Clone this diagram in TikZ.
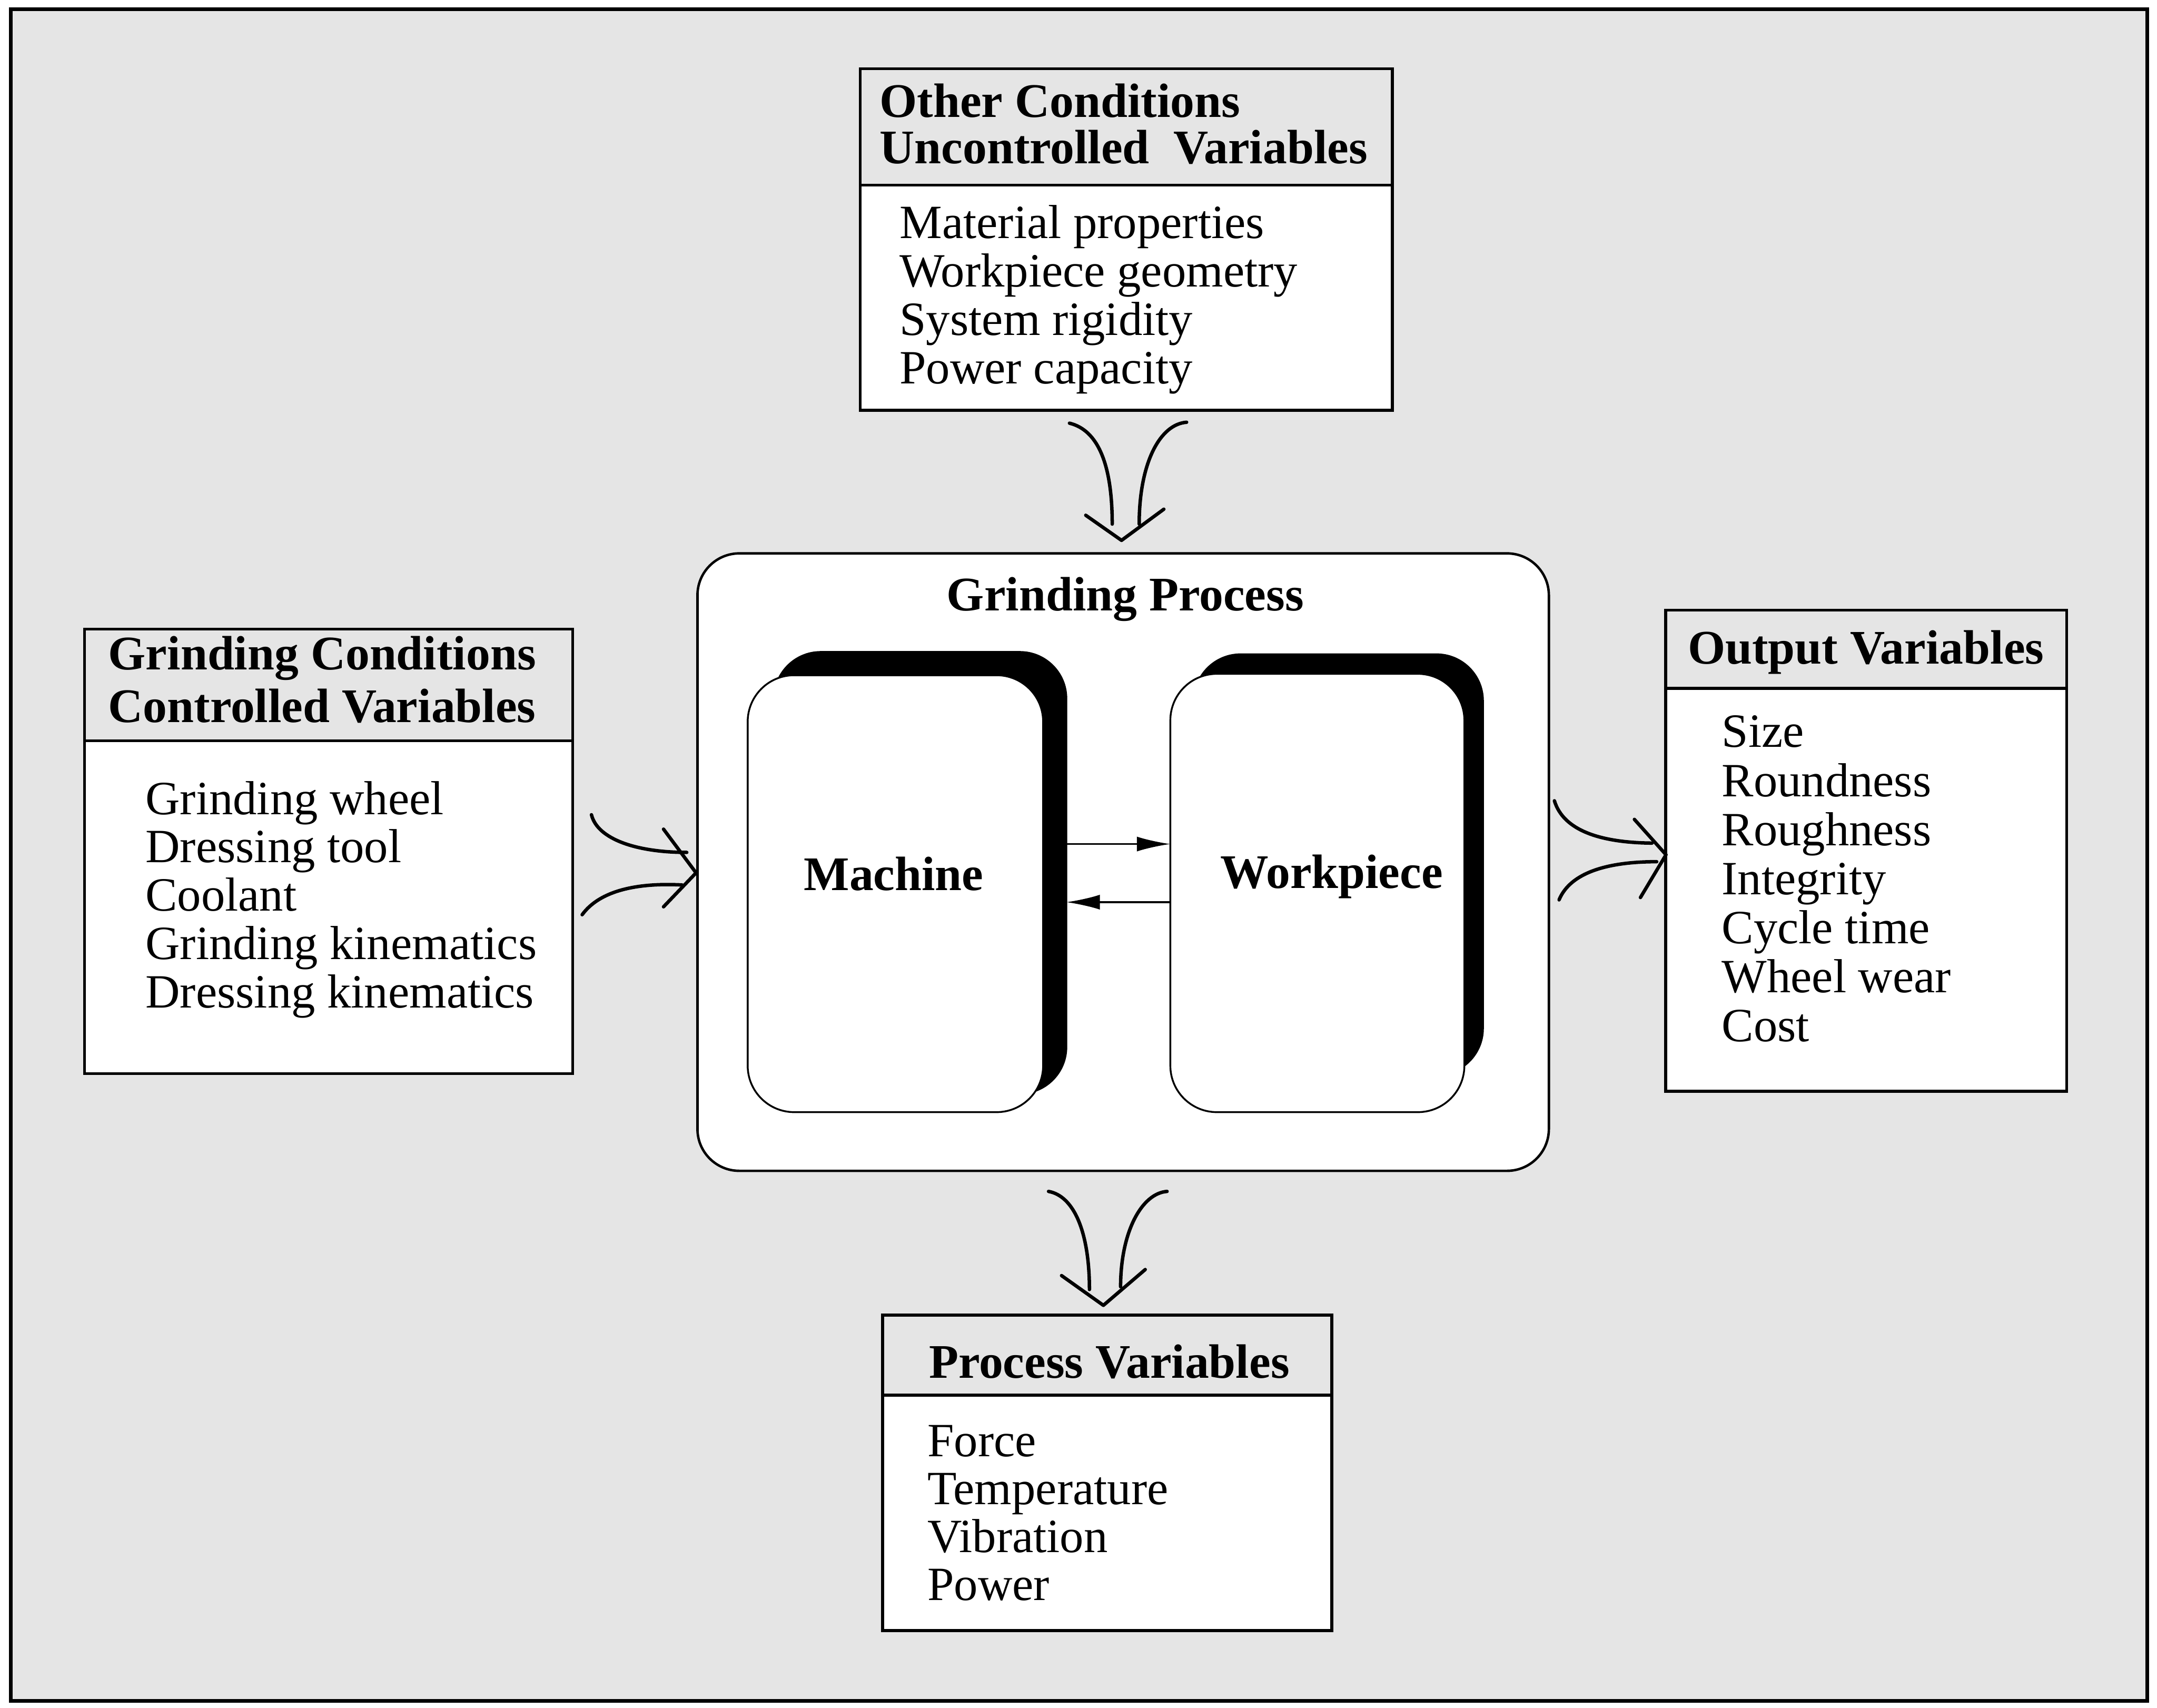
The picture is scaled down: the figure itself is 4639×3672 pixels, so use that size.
\documentclass[tikz,border=0pt]{standalone}
\usepackage{fontspec}
\setmainfont{Liberation Serif}
\usetikzlibrary{arrows.meta}
\definecolor{halftone}{gray}{0.9}
\begin{document}
\begin{tikzpicture}[x=0.01cm,y=-0.01cm,
  every node/.style={inner sep=0pt, outer sep=0pt},
  sheet/.style={draw=black, line width=2.3pt, fill=halftone, anchor=north west},
  panel/.style={draw=black, line width=1.8pt, fill=white, anchor=north west},
  headband/.style={draw=black, line width=1.8pt, fill=halftone, anchor=north west},
  process/.style={draw=black, line width=1.5pt, fill=white, rounded corners=0.9cm, anchor=north west},
  unitshadow/.style={draw=black, line width=1.1pt, fill=black, rounded corners=1.0cm, anchor=north west},
  unitface/.style={draw=black, line width=1.1pt, fill=white, rounded corners=1.0cm, anchor=north west},
  title/.style={font=\fontsize{29.5pt}{30pt}\selectfont\bfseries, anchor=base west},
  item/.style={font=\fontsize{29.2pt}{30pt}\selectfont, anchor=base west},
  label/.style={font=\fontsize{29.5pt}{30pt}\selectfont\bfseries, anchor=base},
  flow/.style={line width=2.1pt, line cap=round},
  flowhead/.style={line width=2.1pt, line cap=round, line join=round},
  link/.style={line width=1.1pt, -{Latex[length=0.72cm,width=0.32cm]}}
]
\useasboundingbox (0,0) rectangle (4639,3672);

% page frame with halftone ground
\node[sheet, minimum width=45.92cm, minimum height=36.35cm] (sheet) at (23,20) {};

% ---- other conditions (top) ----
\node[panel, minimum width=11.44cm, minimum height=7.34cm] (other) at (1850,148) {};
\node[headband, minimum width=11.44cm, minimum height=2.50cm] (otherhead) at (other.north west) {};
\node[title] (othert1) at (1892,252) {Other Conditions};
\node[title] (othert2) at (1892,352) {Uncontrolled\ \ Variables};
\foreach \t [count=\i from 0] in {Material properties, Workpiece geometry, System rigidity, Power capacity}
  \node[item] (otheritem\i) at (1935,{513+104*\i}) {\t};

% ---- grinding conditions (left) ----
\node[panel, minimum width=10.49cm, minimum height=9.55cm] (cond) at (182,1353) {};
\node[headband, minimum width=10.49cm, minimum height=2.40cm] (condhead) at (cond.north west) {};
\node[title] (condt1) at (233,1440) {Grinding Conditions};
\node[title] (condt2) at (233,1553) {Controlled Variables};
\foreach \t [count=\i from 0] in {Grinding wheel, Dressing tool, Coolant, Grinding kinematics, Dressing kinematics}
  \node[item] (conditem\i) at (313,{1751+104*\i}) {\t};

% ---- output variables (right) ----
\node[panel, minimum width=8.62cm, minimum height=10.34cm] (output) at (3582,1312) {};
\node[headband, minimum width=8.62cm, minimum height=1.68cm] (outputhead) at (output.north west) {};
\node[title] (outputt) at (3630,1428) {Output Variables};
\foreach \t [count=\i from 0] in {Size, Roundness, Roughness, Integrity, Cycle time, Wheel wear, Cost}
  \node[item] (outputitem\i) at (3703,{1607+105.5*\i}) {\t};

% ---- process variables (bottom) ----
\node[panel, minimum width=9.66cm, minimum height=6.78cm] (procvar) at (1898,2828) {};
\node[headband, minimum width=9.66cm, minimum height=1.72cm] (procvarhead) at (procvar.north west) {};
\node[title] (procvart) at (1998,2963) {Process Variables};
\foreach \t [count=\i from 0] in {Force, Temperature, Vibration, Power}
  \node[item] (procvaritem\i) at (1995,{3132+103*\i}) {\t};

% ---- grinding process ----
\node[process, minimum width=18.30cm, minimum height=13.27cm] (grind) at (1500,1190) {};
\node[label] (grindt) at (2420,1313) {Grinding Process};

\node[unitshadow, minimum width=6.28cm, minimum height=9.49cm] (machshadow) at (1665,1402) {};
\node[unitface, minimum width=6.35cm, minimum height=9.39cm] (machine) at (1608,1452) {};
\node[label] (machinet) at (1922,1915) {Machine};

\node[unitshadow, minimum width=6.21cm, minimum height=9.04cm] (workshadow) at (2568,1407) {};
\node[unitface, minimum width=6.32cm, minimum height=9.42cm] (workpiece) at (2517,1449) {};
\node[label] (workpiecet) at (2864,1910) {Workpiece};

\draw[link] (machshadow.east |- 0,1815) -- (workpiece.west |- 0,1815);
\draw[link] (workpiece.west |- 0,1940) -- (machshadow.east |- 0,1940);

% ---- merging arrows ----
% top: other conditions -> grinding process
\coordinate (ta1) at (2300,910);  \coordinate (ta2) at (2392,1127);
\coordinate (tb1) at (2552,908);  \coordinate (tb2) at (2450,1127);
\coordinate (tl) at (2335,1108); \coordinate (tt) at (2412,1162); \coordinate (tr) at (2503,1095);
\draw[flow] (ta1) .. controls (2362,925) and (2392,1000) .. (ta2);
\draw[flow] (tb1) .. controls (2495,912) and (2450,995) .. (tb2);
\draw[flowhead] (tl) -- (tt) -- (tr);

% left: grinding conditions -> grinding process
\coordinate (la1) at (1272,1752); \coordinate (la2) at (1477,1833);
\coordinate (lb1) at (1252,1967); \coordinate (lb2) at (1467,1903);
\coordinate (lu) at (1427,1783); \coordinate (lt) at (1497,1877); \coordinate (ld) at (1427,1950);
\draw[flow] (la1) .. controls (1285,1805) and (1370,1833) .. (la2);
\draw[flow] (lb1) .. controls (1290,1915) and (1370,1898) .. (lb2);
\draw[flowhead] (lu) -- (lt) -- (ld);

% right: grinding process -> output variables
\coordinate (ra1) at (3343,1722); \coordinate (ra2) at (3553,1813);
\coordinate (rb1) at (3353,1935); \coordinate (rb2) at (3563,1853);
\coordinate (ru) at (3515,1762); \coordinate (rt) at (3583,1838); \coordinate (rd) at (3528,1930);
\draw[flow] (ra1) .. controls (3362,1785) and (3440,1812) .. (ra2);
\draw[flow] (rb1) .. controls (3378,1875) and (3460,1853) .. (rb2);
\draw[flowhead] (ru) -- (rt) -- (rd);

% bottom: grinding process -> process variables
\coordinate (ba1) at (2255,2562); \coordinate (ba2) at (2343,2773);
\coordinate (bb1) at (2510,2562); \coordinate (bb2) at (2410,2767);
\coordinate (bl) at (2283,2743); \coordinate (bt) at (2373,2807); \coordinate (br) at (2463,2730);
\draw[flow] (ba1) .. controls (2310,2572) and (2343,2650) .. (ba2);
\draw[flow] (bb1) .. controls (2455,2566) and (2410,2650) .. (bb2);
\draw[flowhead] (bl) -- (bt) -- (br);
\end{tikzpicture}
\end{document}
